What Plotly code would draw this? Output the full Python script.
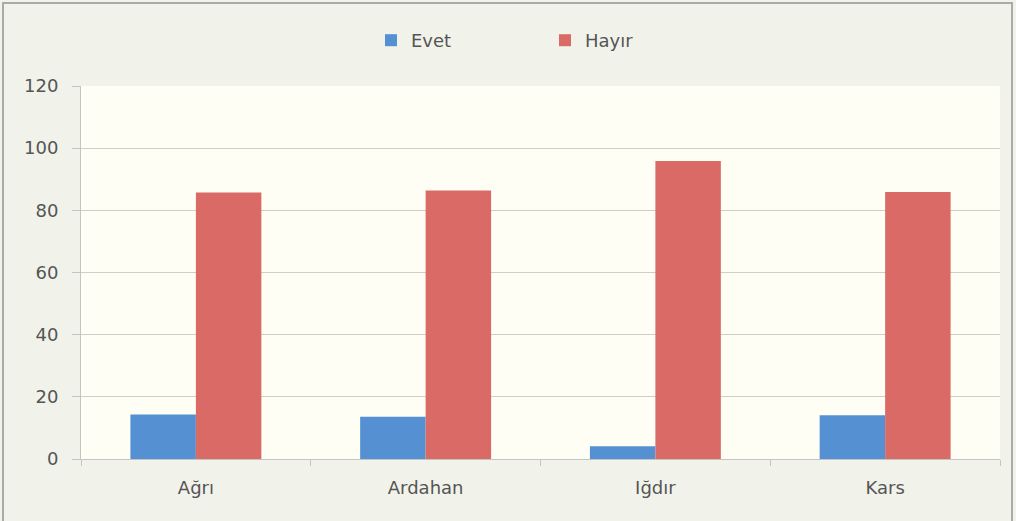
import plotly.graph_objects as go

categories = ["Ağrı", "Ardahan", "Iğdır", "Kars"]
evet = [14.3, 13.6, 4.1, 14.1]
hayir = [85.7, 86.4, 95.9, 85.9]
y_ticks = [0, 20, 40, 60, 80, 100, 120]

W, H = 1016, 521
L, R, T, B = 81, 16, 86, 62
pw, ph = W - L - R, H - T - B

fig = go.Figure()
fig.add_trace(go.Bar(name="Evet", x=categories, y=evet, marker=dict(color="#5590d2", line=dict(width=0))))
fig.add_trace(go.Bar(name="Hayır", x=categories, y=hayir, marker=dict(color="#da6a66", line=dict(width=0))))

# outer frame of the chart
fig.add_shape(type="rect", xref="paper", yref="paper",
              x0=(3 - L) / pw, x1=(W - 4 - L) / pw,
              y0=(B - (H - 8)) / ph, y1=1 + (T - 3) / ph,
              line=dict(color="#a9aba6", width=2), layer="below")

font = dict(family="'DejaVu Sans', sans-serif", size=18, color="#555555")

fig.update_layout(
    width=W, height=H,
    margin=dict(l=L, r=R, t=T, b=B),
    barmode="group", bargap=0.43, bargroupgap=0,
    paper_bgcolor="#f1f3eb", plot_bgcolor="#fefef5",
    font=font,
    showlegend=True,
    legend=dict(orientation="h", x=(371 - L) / pw, xanchor="left", y=1 + (T - 22) / ph, yanchor="top",
                font=font, bgcolor="rgba(0,0,0,0)", itemwidth=30,
                entrywidth=129, entrywidthmode="pixels", traceorder="normal"),
    xaxis=dict(showgrid=False, showline=True, linecolor="#c4c4c4", linewidth=1,
               ticks="outside", tickson="boundaries", ticklen=6, tickcolor="#c4c4c4",
               tickfont=font, ticklabelstandoff=12),
    yaxis=dict(range=[0, 120], tickvals=y_ticks, showgrid=True, gridcolor="#cdcdca", gridwidth=1,
               showline=True, linecolor="#c4c4c4", linewidth=1, zeroline=False,
               ticks="outside", ticklen=8, tickcolor="#c4c4c4", tickfont=font, ticklabelstandoff=10),
)

fig.write_html("out.html")
